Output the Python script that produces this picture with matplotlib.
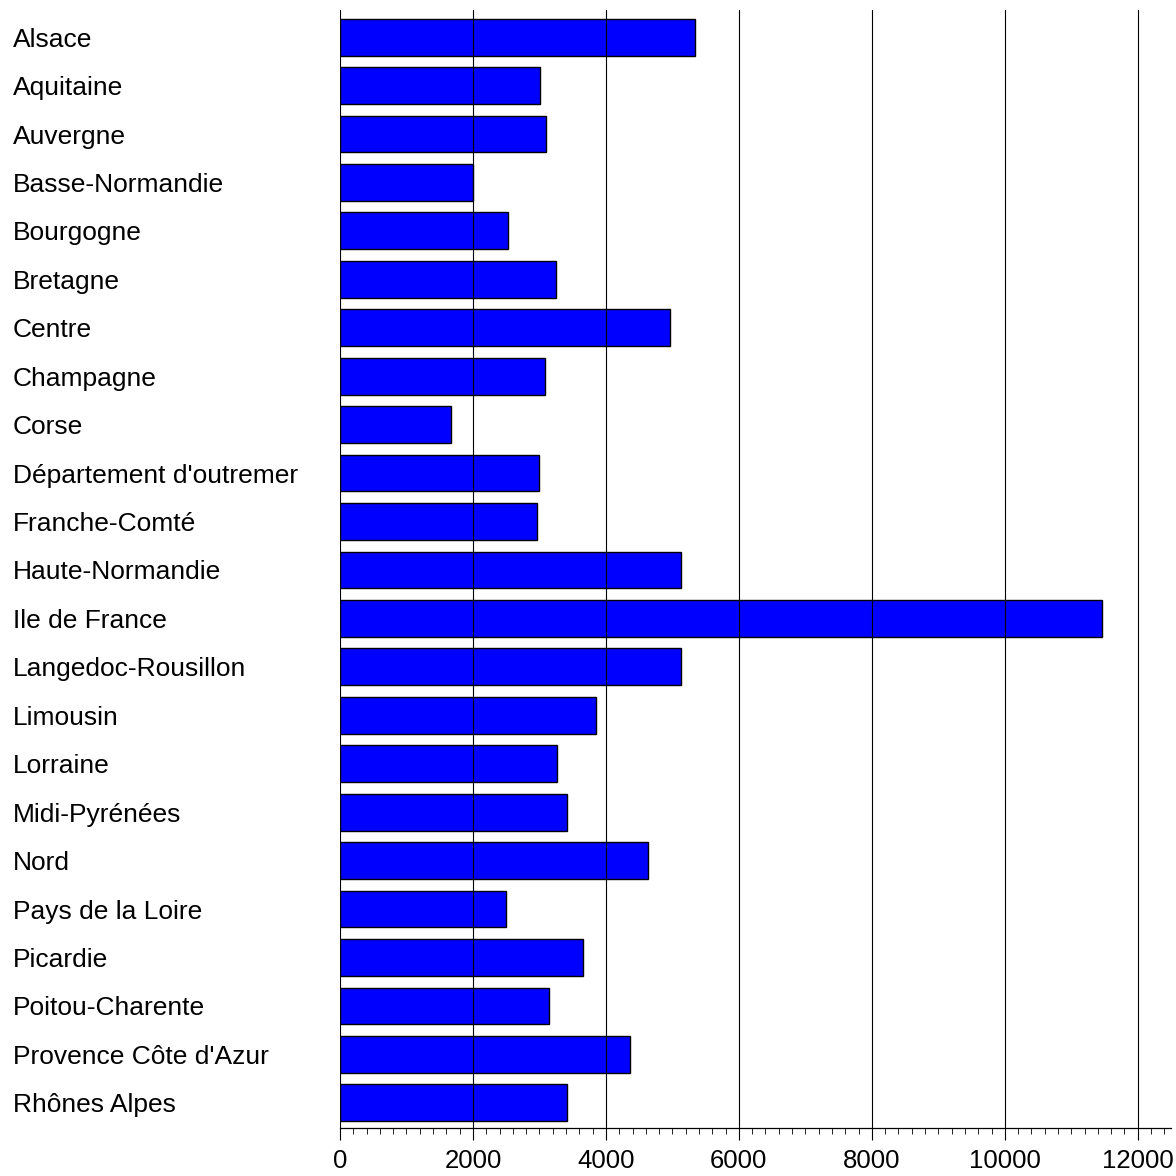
import matplotlib
matplotlib.use("Agg")
import matplotlib.pyplot as plt
from matplotlib.ticker import MultipleLocator

regions = ["Alsace", "Aquitaine", "Auvergne", "Basse-Normandie", "Bourgogne", "Bretagne",
           "Centre", "Champagne", "Corse", "Département d'outremer", "Franche-Comté",
           "Haute-Normandie", "Ile de France", "Langedoc-Rousillon", "Limousin", "Lorraine",
           "Midi-Pyrénées", "Nord", "Pays de la Loire", "Picardie", "Poitou-Charente",
           "Provence Côte d'Azur", "Rhônes Alpes"]
values = [5340, 3010, 3100, 2000, 2520, 3250, 4960, 3080, 1670, 3000, 2960,
          5130, 11460, 5130, 3850, 3260, 3420, 4630, 2500, 3650, 3140, 4360, 3420]
xticks = [0, 2000, 4000, 6000, 8000, 10000, 12000]

plt.rcParams['font.family'] = ['Liberation Sans', 'DejaVu Sans']
fig = plt.figure(figsize=(11.76, 11.76), dpi=100)
W = H = 1176
ax = fig.add_axes([340 / W, 1 - 1128 / H, (1171 - 340) / W, (1128 - 10) / H])

ypos = list(range(len(regions)))
ax.barh(ypos, values, height=0.76, color='#0000ff', edgecolor='black', linewidth=1.0, zorder=1)

ax.set_xlim(0, 12500)
ax.set_ylim(len(regions) - 1 + 0.52, -0.56)
ax.set_xticks(xticks)
ax.set_xticklabels([str(t) for t in xticks], fontsize=18.5)
ax.xaxis.set_minor_locator(MultipleLocator(200))
ax.tick_params(axis='x', which='major', length=8.6, width=0.8, direction='out', pad=6.5)
ax.tick_params(axis='x', which='minor', length=4.3, width=0.6, direction='out')

ax.set_yticks(ypos)
ax.set_yticklabels(regions, fontsize=19, ha='left')
ax.tick_params(axis='y', length=0, pad=(340 - 13) * 72 / 100)

for s in ['top', 'right', 'left']:
    ax.spines[s].set_visible(False)
ax.spines['bottom'].set_linewidth(0.9)

ax.set_axisbelow(False)
ax.grid(axis='x', which='major', color='black', linewidth=0.8)
ax.grid(axis='y', visible=False)

fig.savefig("out.png", dpi=100)
